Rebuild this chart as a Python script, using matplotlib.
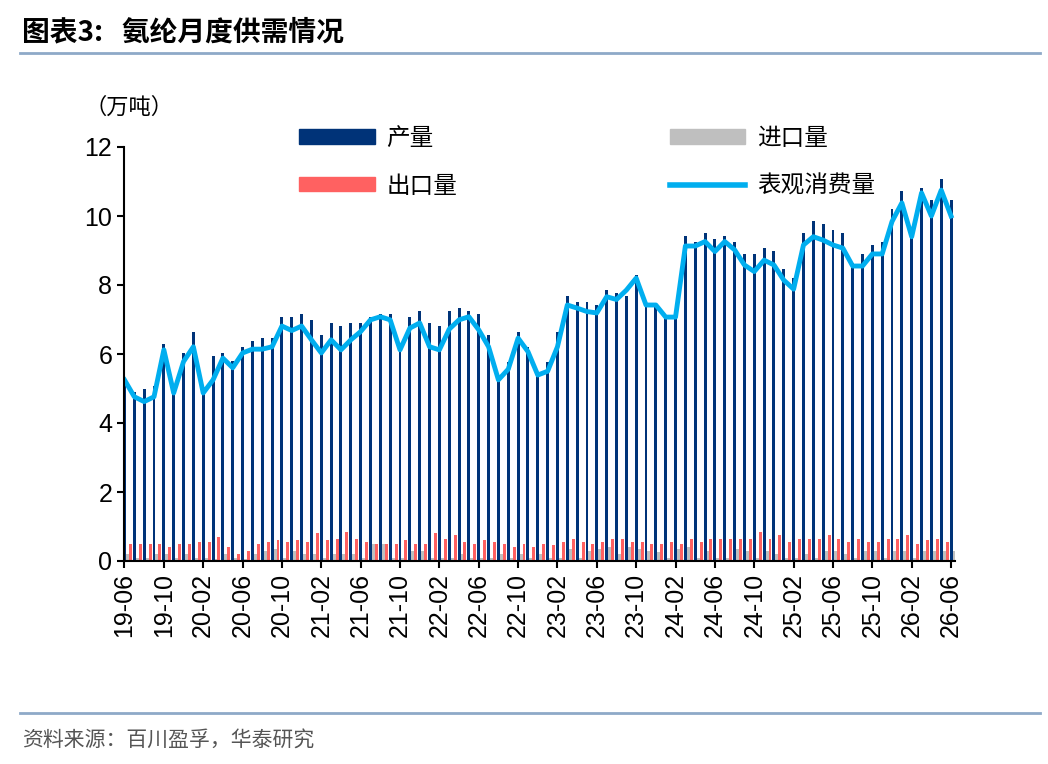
import numpy as np
import matplotlib.pyplot as plt
import matplotlib.lines as mlines

plt.rcParams['font.family'] = ['Liberation Sans', 'Noto Sans CJK SC', 'DejaVu Sans']

# months 19-06 .. 26-06
months = []
y, m = 2019, 6
for _ in range(85):
    months.append(f"{y % 100:02d}-{m:02d}")
    m += 1
    if m > 12:
        m, y = 1, y + 1

production = [5.15, 4.89, 4.98, 5.07, 6.29, 4.95, 6.03, 6.64, 4.95, 5.94,
              6.03, 5.8, 6.2, 6.38, 6.46, 6.46, 7.07, 7.07, 7.16, 6.98,
              6.55, 6.9, 6.81, 6.9, 6.9, 7.07, 7.16, 7.16, 6.1, 7.07,
              7.25, 6.9, 6.81, 7.25, 7.33, 7.25, 7.16, 6.55, 5.3, 5.77,
              6.64, 6.2, 5.4, 5.77, 6.64, 7.68, 7.5, 7.5, 7.42, 7.85,
              7.77, 7.68, 8.29, 7.46, 7.46, 7.07, 7.07, 9.42, 9.24, 9.5,
              9.33, 9.42, 9.25, 8.9, 8.9, 9.07, 8.99, 8.46, 8.2, 9.5,
              9.85, 9.77, 9.6, 9.5, 8.64, 8.9, 9.16, 9.25, 10.2, 10.72,
              9.5, 10.8, 10.46, 11.07, 10.46]
imports = [0.2, 0.1, 0.1, 0.2, 0.2, 0.1, 0.2, 0.1, 0.1, 0.05,
           0.2, 0.1, 0.05, 0.2, 0.3, 0.35, 0.1, 0.3, 0.2, 0.2,
           0.1, 0.2, 0.2, 0.2, 0.1, 0.5, 0.5, 0.1, 0.1, 0.3,
           0.3, 0.1, 0.1, 0.1, 0.2, 0.1, 0.1, 0.1, 0.2, 0.1,
           0.2, 0.1, 0.2, 0.1, 0.1, 0.35, 0.1, 0.3, 0.35, 0.4,
           0.2, 0.4, 0.35, 0.3, 0.25, 0.1, 0.35, 0.4, 0.1, 0.3,
           0.1, 0.1, 0.35, 0.3, 0.1, 0.3, 0.2, 0.1, 0.1, 0.2,
           0.1, 0.3, 0.3, 0.2, 0.1, 0.3, 0.3, 0.1, 0.3, 0.3,
           0.1, 0.3, 0.3, 0.3, 0.3]
exports = [0.5, 0.5, 0.5, 0.5, 0.4, 0.5, 0.5, 0.55, 0.55, 0.7,
           0.4, 0.2, 0.3, 0.5, 0.55, 0.6, 0.55, 0.6, 0.55, 0.8,
           0.6, 0.65, 0.85, 0.65, 0.55, 0.5, 0.5, 0.5, 0.6, 0.5,
           0.5, 0.8, 0.65, 0.75, 0.55, 0.5, 0.6, 0.55, 0.5, 0.4,
           0.5, 0.4, 0.5, 0.45, 0.55, 0.65, 0.55, 0.5, 0.55, 0.65,
           0.65, 0.55, 0.55, 0.5, 0.5, 0.55, 0.5, 0.65, 0.55, 0.65,
           0.65, 0.65, 0.65, 0.65, 0.85, 0.65, 0.75, 0.55, 0.65, 0.65,
           0.65, 0.75, 0.65, 0.55, 0.65, 0.55, 0.55, 0.65, 0.65, 0.75,
           0.5, 0.6, 0.65, 0.55, 0.75]
consumption = [5.25, 4.76, 4.62, 4.76, 6.12, 4.87, 5.78, 6.21, 4.87, 5.25,
               5.88, 5.6, 6.03, 6.14, 6.14, 6.21, 6.81, 6.68, 6.81, 6.41,
               6.03, 6.41, 6.12, 6.41, 6.65, 6.99, 7.08, 6.99, 6.12, 6.75,
               6.9, 6.21, 6.12, 6.72, 6.99, 7.08, 6.7, 6.21, 5.25, 5.56,
               6.46, 6.07, 5.39, 5.5, 6.21, 7.42, 7.33, 7.23, 7.19, 7.66,
               7.58, 7.85, 8.2, 7.42, 7.42, 7.07, 7.07, 9.13, 9.13, 9.26,
               8.97, 9.26, 9.02, 8.58, 8.39, 8.72, 8.58, 8.14, 7.88, 9.16,
               9.4, 9.3, 9.16, 9.07, 8.55, 8.55, 8.9, 8.9, 9.84, 10.38,
               9.4, 10.67, 10.0, 10.75, 10.0]

navy, grey, red, cyan = '#003378', '#BFBFBF', '#FF6161', '#00AEEF'

fig = plt.figure(figsize=(10.48, 7.64), dpi=100)
ax = fig.add_axes([124/1048, 1-561/764, 831/1048, 414/764])

x = np.arange(len(months))
w = 0.3
ax.bar(x, production, w, color=navy)
ax.bar(x + w, imports, w, color=grey)
ax.bar(x + 2*w, exports, w, color=red)
ax.plot(x, consumption, color=cyan, lw=3.5)

ax.set_xlim(-0.05, len(months) - 0.6)
ax.set_ylim(0, 12)
ax.set_yticks(range(0, 13, 2))
ax.set_xticks(x[::4])
ax.set_xticklabels(months[::4], rotation=90, fontsize=18)
ax.tick_params(axis='y', labelsize=18, length=5, width=1.5)
ax.tick_params(axis='x', length=5, width=1.5)
for s in ['top', 'right']:
    ax.spines[s].set_visible(False)
for s in ['left', 'bottom']:
    ax.spines[s].set_linewidth(1.5)

handles = [plt.Rectangle((0, 0), 1, 1, color=navy),
           plt.Rectangle((0, 0), 1, 1, color=red),
           plt.Rectangle((0, 0), 1, 1, color=grey),
           mlines.Line2D([], [], color=cyan, lw=4)]
labels = ['产量', '出口量', '进口量', '表观消费量']
ax.legend(handles, labels, ncol=2, loc='upper left',
          bbox_to_anchor=(0.185, 1.10), frameon=False,
          handlelength=3.2, handleheight=0.55, handletextpad=0.5,
          columnspacing=9.0, labelspacing=1.05,
          prop={'family': ['Noto Sans CJK SC'], 'size': 17})

fig.text(85/1048, 1-107/764, '（万吨）', fontsize=16, va='center',
         family=['Noto Sans CJK SC'])
fig.text(22/1048, 1-32/764, '图表3:   氨纶月度供需情况', fontsize=20,
         fontweight='bold', va='center', family=['Noto Sans CJK SC'])
fig.add_artist(mlines.Line2D([20/1048, 1040/1048], [1-53/764]*2,
                             color='#8EA9C8', lw=2))
fig.add_artist(mlines.Line2D([20/1048, 1040/1048], [1-713/764]*2,
                             color='#8EA9C8', lw=2))
fig.text(22/1048, 1-740/764, '资料来源：百川盈孚，华泰研究', fontsize=15,
         color='#555555', va='center', family=['Noto Sans CJK SC'])

fig.savefig('out.png', dpi=100)
